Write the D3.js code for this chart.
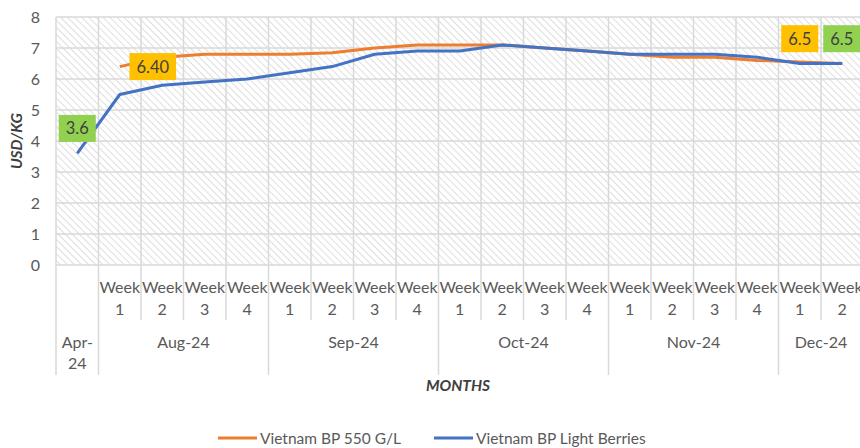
<!DOCTYPE html>
<html><head><meta charset="utf-8">
<script src="https://cdn.jsdelivr.net/npm/d3@7"></script>
<style>body{margin:0;background:#fff}svg{display:block;font-family:Lato,"Open Sans",sans-serif}</style>
</head><body><svg id="c" width="860" height="448"></svg>
<script>
const months = ["Apr-24","Aug-24","Aug-24","Aug-24","Aug-24","Sep-24","Sep-24","Sep-24","Sep-24","Oct-24","Oct-24","Oct-24","Oct-24","Nov-24","Nov-24","Nov-24","Nov-24","Dec-24","Dec-24"];
const weeks = ["","1","2","3","4","1","2","3","4","1","2","3","4","1","2","3","4","1","2"];
const bp550 = [null,6.4,6.7,6.8,6.8,6.8,6.85,7.0,7.1,7.1,7.1,7.0,6.9,6.8,6.7,6.7,6.6,6.55,6.5];
const lightBerries = [3.6,5.5,5.8,5.9,6.0,6.2,6.4,6.8,6.9,6.9,7.1,7.0,6.9,6.8,6.8,6.8,6.7,6.5,6.5];
const yTicks = [0,1,2,3,4,5,6,7,8];
const seriesNames = ["Vietnam BP 550 G/L","Vietnam BP Light Berries"];
const labels550 = [{i:1,text:"6.40"},{i:18,text:"6.5"}];
const labelsLB = [{i:0,text:"3.6"},{i:18,text:"6.5"}];

const svg = d3.select("#c");
const idx = d3.range(months.length);
const x = d3.scaleBand().domain(idx).range([56,863.5]).padding(0);
const y = d3.scaleLinear().domain([0,8]).range([265,17]);
const grid = "#D9D9D9", txt = "#595959";
const cOr = "#ED7D31", cBl = "#4472C4";
const fs = "16px";

const defs = svg.append("defs");
const pat = defs.append("pattern").attr("id","hatch").attr("patternUnits","userSpaceOnUse")
  .attr("width",5).attr("height",5).attr("patternTransform","rotate(-45)");
pat.append("rect").attr("width",5).attr("height",5).attr("fill","#fff");
pat.append("line").attr("x1",0).attr("y1",0).attr("x2",0).attr("y2",5).attr("stroke","#D0D0D0").attr("stroke-width",1.4);

svg.append("rect").attr("x",x.range()[0]).attr("y",y(8)).attr("width",x.range()[1]-x.range()[0]).attr("height",y(0)-y(8)).attr("fill","url(#hatch)");

// horizontal grid
svg.append("g").selectAll("line").data(yTicks).join("line")
  .attr("x1",x.range()[0]).attr("x2",x.range()[1]).attr("y1",d=>y(d)).attr("y2",d=>y(d))
  .attr("stroke",grid).attr("stroke-width",1.5);
// vertical grid at category boundaries
svg.append("g").selectAll("line").data(idx.concat([months.length])).join("line")
  .attr("x1",d=>d<months.length?x(d):x.range()[1]).attr("x2",d=>d<months.length?x(d):x.range()[1])
  .attr("y1",y(8)).attr("y2",d=>{
    if(d===months.length) return 375;
    if(d===0 || months[d]!==months[d-1]) return 375;
    return 320;})
  .attr("stroke",grid).attr("stroke-width",1.5);

// y tick labels
const yAxis = d3.axisLeft(y).tickValues(yTicks).tickSize(0).tickPadding(0);
const ga = svg.append("g").attr("transform","translate(40,0)").call(yAxis);
ga.select(".domain").remove();
ga.selectAll("text").attr("fill",txt).style("font-size",fs).style("font-family","Lato,sans-serif");

// week labels
const wk = svg.append("g");
idx.forEach(i=>{
  if(!weeks[i]) return;
  const cx = x(i)+x.bandwidth()/2;
  wk.append("text").attr("x",cx).attr("y",293).attr("text-anchor","middle").attr("fill",txt).style("font-size",fs).text("Week");
  wk.append("text").attr("x",cx).attr("y",315).attr("text-anchor","middle").attr("fill",txt).style("font-size",fs).text(weeks[i]);
});
// month labels
const groups = d3.groups(idx,i=>months[i]);
groups.forEach(([m,is])=>{
  const x0 = x(is[0]), x1 = x(is[is.length-1])+x.bandwidth();
  const cx=(x0+x1)/2;
  if(is.length===1){
    const parts = m.split("-");
    svg.append("text").attr("x",cx).attr("y",348).attr("text-anchor","middle").attr("fill",txt).style("font-size",fs).text(parts[0]+"-");
    svg.append("text").attr("x",cx).attr("y",369).attr("text-anchor","middle").attr("fill",txt).style("font-size",fs).text(parts[1]);
  } else {
    svg.append("text").attr("x",cx).attr("y",348).attr("text-anchor","middle").attr("fill",txt).style("font-size",fs).text(m);
  }
});

// axis titles
svg.append("text").attr("transform","translate(22,141) rotate(-90)").attr("text-anchor","middle")
  .attr("fill","#404040").style("font-size","15.5px").style("font-weight","bold").style("font-style","italic").text("USD/KG");
svg.append("text").attr("x",458).attr("y",391).attr("text-anchor","middle")
  .attr("fill","#404040").style("font-size","15.5px").style("font-weight","bold").style("font-style","italic").text("MONTHS");

// lines
const line = d3.line().defined(d=>d.v!=null).x(d=>x(d.i)+x.bandwidth()/2).y(d=>y(d.v));
svg.append("path").datum(bp550.map((v,i)=>({i,v}))).attr("d",line).attr("fill","none").attr("stroke",cOr).attr("stroke-width",3).attr("stroke-linejoin","round");
svg.append("path").datum(lightBerries.map((v,i)=>({i,v}))).attr("d",line).attr("fill","none").attr("stroke",cBl).attr("stroke-width",3).attr("stroke-linejoin","round");

// data labels
function label(cx,cy,text,fill){
  const g = svg.append("g");
  const t = g.append("text").attr("x",cx).attr("y",cy+6).attr("text-anchor","middle").attr("fill","#404040").style("font-size","16.5px").text(text);
  const w = t.node().getComputedTextLength()+14;
  g.insert("rect","text").attr("x",cx-w/2).attr("y",cy-13.5).attr("width",w).attr("height",27).attr("fill",fill);
}
const cxOf = i=>x(i)+x.bandwidth()/2;
label(cxOf(1)+33,y(bp550[1]),labels550[0].text,"#FFC000");
label(cxOf(17),y(7.3),labels550[1].text,"#FFC000");
label(cxOf(0),y(lightBerries[0])+25-50,labelsLB[0].text,"#92D050");
label(cxOf(18)-0.5,y(7.3),labelsLB[1].text,"#92D050");

// legend
const lg = svg.append("g");
[[seriesNames[0],cOr,218],[seriesNames[1],cBl,434]].forEach(([n,c,lx])=>{
  lg.append("line").attr("x1",lx).attr("x2",lx+39).attr("y1",438).attr("y2",438).attr("stroke",c).attr("stroke-width",3);
  lg.append("text").attr("x",lx+42).attr("y",443.5).attr("fill",txt).style("font-size","15.5px").text(n);
});
</script></body></html>
